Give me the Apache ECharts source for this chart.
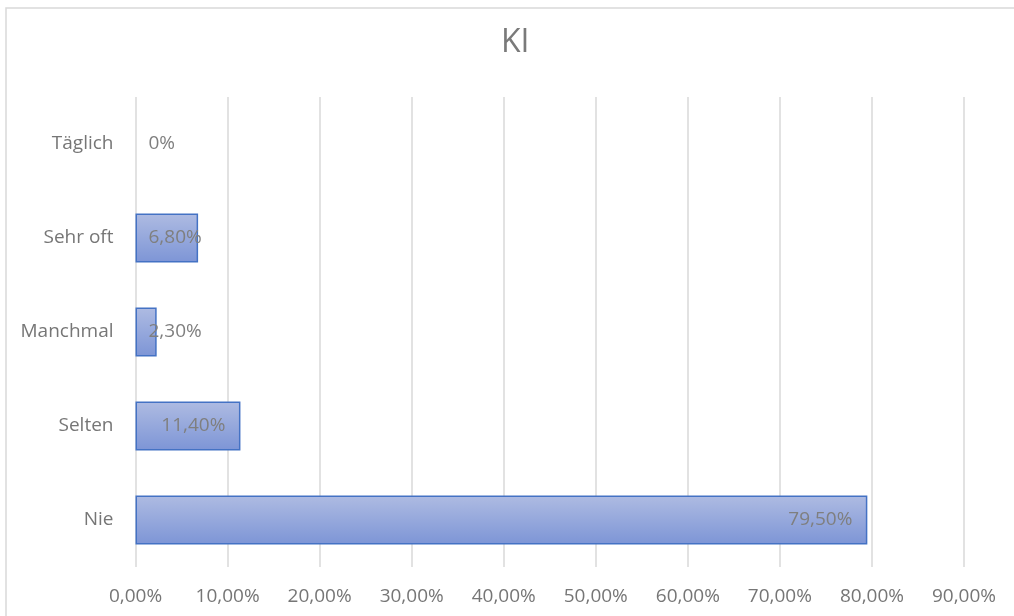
<!DOCTYPE html>
<html>
<head>
<meta charset="utf-8">
<script src="https://cdn.jsdelivr.net/npm/echarts@6/dist/echarts.min.js"></script>
<style>
  html, body { margin: 0; padding: 0; background: #fff; }
  #chart { width: 1014px; height: 616px; }
</style>
</head>
<body>
<div id="chart"></div>
<script>
// Usage frequency of AI tools (share of respondents, %)
const categories = ['Nie', 'Selten', 'Manchmal', 'Sehr oft', 'Täglich'];
const values = [79.5, 11.4, 2.3, 6.8, 0];
const axisMin = 0;
const axisMax = 90;
const axisStep = 10;

const FONT = '"Open Sans", "Liberation Sans", sans-serif';

function pct(v, digits) {
  return v.toFixed(digits).replace('.', ',') + '%';
}

// Short bars get their label placed just right of the axis, long bars inside the end;
// an empty bar gets no outline.
const barData = values.map(v => ({
  value: v,
  itemStyle: v === 0 ? { borderWidth: 0 } : undefined,
  label: v >= 10
    ? { position: 'insideRight', distance: 15 }
    : { position: [13, '50%'], align: 'left', verticalAlign: 'middle' }
}));

const chart = echarts.init(document.getElementById('chart'));
chart.setOption({
  animation: false,
  backgroundColor: '#ffffff',
  title: {
    text: 'KI',
    left: 496,
    top: 22,
    textStyle: { fontFamily: FONT, fontSize: 32, fontWeight: 'normal', color: '#7a7a7a' }
  },
  graphic: [{
    type: 'rect',
    shape: { x: 6, y: 8, width: 1030, height: 640 },
    style: { fill: 'none', stroke: '#d9d9d9', lineWidth: 1.5 },
    silent: true
  }],
  grid: { left: 135.5, right: 50, top: 97, bottom: 49, containLabel: false },
  xAxis: {
    type: 'value',
    min: axisMin,
    max: axisMax,
    interval: axisStep,
    axisLine: { show: false },
    axisTick: { show: false },
    splitLine: { show: true, lineStyle: { color: '#d9d9d9', width: 1.5 } },
    axisLabel: {
      margin: 20,
      fontFamily: FONT,
      fontSize: 19,
      color: '#767676',
      formatter: v => pct(v, 2)
    }
  },
  yAxis: {
    type: 'category',
    data: categories,
    axisLine: { show: false },
    axisTick: { show: false },
    axisLabel: { margin: 22, fontFamily: FONT, fontSize: 19, color: '#767676' }
  },
  series: [{
    type: 'bar',
    data: barData,
    barCategoryGap: '48%',
    itemStyle: {
      color: new echarts.graphic.LinearGradient(0, 0, 0, 1, [
        { offset: 0, color: '#aebbe2' },
        { offset: 1, color: '#7d95d6' }
      ]),
      borderColor: '#4472c4',
      borderWidth: 1.5
    },
    label: {
      show: true,
      fontFamily: FONT,
      fontSize: 19,
      color: '#7f7f7f',
      formatter: p => p.value === 0 ? '0%' : pct(p.value, 2)
    }
  }]
});
</script>
</body>
</html>
